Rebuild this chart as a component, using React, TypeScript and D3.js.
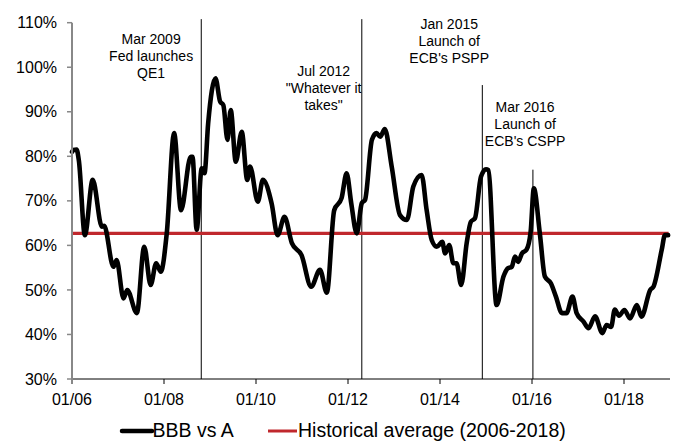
import React from "react";
import * as d3 from "d3";

// Dates as fractional years, values in %
const dates = [
  2006.0, 2006.03, 2006.1, 2006.15, 2006.28, 2006.45, 2006.65, 2006.7, 2006.9, 2006.97,
  2007.12, 2007.2, 2007.41, 2007.57, 2007.71, 2007.83, 2007.93, 2008.06, 2008.22, 2008.37,
  2008.58, 2008.62, 2008.71, 2008.82, 2008.88, 2008.96, 2009.12, 2009.22, 2009.29, 2009.38,
  2009.45, 2009.56, 2009.69, 2009.81, 2009.87, 2010.04, 2010.15, 2010.34, 2010.47, 2010.62,
  2010.78, 2010.99, 2011.2, 2011.39, 2011.54, 2011.7, 2011.86, 2011.97, 2012.07, 2012.19,
  2012.3, 2012.37, 2012.52, 2012.62, 2012.7, 2012.8, 2012.95, 2013.13, 2013.28, 2013.42,
  2013.6, 2013.71, 2013.82, 2013.93, 2014.05, 2014.11, 2014.2, 2014.29, 2014.36, 2014.46,
  2014.58, 2014.67, 2014.76, 2014.89, 2015.0, 2015.05, 2015.23, 2015.38, 2015.48, 2015.56,
  2015.63, 2015.7, 2015.78, 2015.88, 2015.97, 2016.04, 2016.17, 2016.28, 2016.41, 2016.52,
  2016.65, 2016.75, 2016.88, 2016.97, 2017.12, 2017.23, 2017.37, 2017.53, 2017.62, 2017.72,
  2017.8, 2017.89, 2018.01, 2018.13, 2018.28, 2018.38, 2018.57, 2018.64, 2018.82, 2018.89,
  2018.96,
];
const bbbVsA = [
  81.0, 81.4, 81.5, 79.0, 62.3, 74.7, 64.2, 64.4, 55.2, 56.7,
  48.1, 50.0, 44.8, 59.7, 51.1, 56.0, 54.1, 62.7, 85.2, 67.9,
  79.9, 79.9, 63.5, 77.3, 76.2, 87.4, 97.5, 92.3, 91.5, 83.7,
  90.4, 78.8, 85.5, 74.7, 77.7, 69.8, 74.7, 69.4, 62.3, 66.4,
  60.5, 57.8, 50.7, 54.5, 49.4, 67.9, 70.6, 76.2, 69.5, 62.7,
  69.5, 70.2, 83.7, 85.2, 84.4, 86.1, 77.7, 66.8, 65.7, 73.2,
  75.8, 67.9, 61.2, 59.7, 60.8, 58.2, 60.1, 56.0, 56.0, 51.1,
  60.5, 65.3, 66.1, 75.4, 77.1, 76.9, 46.6, 53.0, 54.9, 55.2,
  57.5, 56.3, 58.2, 59.0, 63.0, 72.8, 62.7, 53.0, 51.5, 48.5,
  44.8, 44.8, 48.5, 44.8, 42.9, 41.4, 44.1, 40.3, 42.1, 41.7,
  45.6, 44.2, 45.5, 43.6, 46.6, 44.0, 50.0, 50.7, 59.0, 62.3,
  62.3,
];
const historicalAverage = 62.7;

const xTickYears = [2006, 2008, 2010, 2012, 2014, 2016, 2018];
const xTickLabels = ["01/06", "01/08", "01/10", "01/12", "01/14", "01/16", "01/18"];
const yTicks = [30, 40, 50, 60, 70, 80, 90, 100, 110];

const eventYears = [2008.81, 2012.3, 2014.92, 2016.02];
const eventTopValues = [110.8, 110.8, 96.0, 77.0];
const eventLabels = [
  ["Mar 2009", "Fed launches", "QE1"],
  ['Jul 2012', '"Whatever it', 'takes"'],
  ["Jan 2015", "Launch of", "ECB's PSPP"],
  ["Mar 2016", "Launch of", "ECB's CSPP"],
];
const eventLabelYears = [2007.72, 2011.47, 2014.2, 2015.85];
const eventLabelTopValues = [106.4, 99.2, 109.7, 91.0];

const legendLabels = ["BBB vs A", "Historical average (2006-2018)"];

const W = 678;
const H = 441;
const margin = { left: 72, right: 8, top: 22.7, bottom: 62 };
const FONT = "'Liberation Sans', Arial, sans-serif";

export default function App() {
  const x = d3.scaleLinear().domain([2006, 2019]).range([margin.left, 670]);
  const y = d3.scaleLinear().domain([30, 110]).range([379, margin.top]);

  const pts: [number, number][] = dates.map((d, i) => [d, bbbVsA[i]]);
  const line = d3
    .line<[number, number]>()
    .x((d) => x(d[0]))
    .y((d) => y(d[1]))
    .curve(d3.curveMonotoneX);

  const red = "#C0282D";

  return (
    <svg
      width={W}
      height={H}
      style={{ position: "absolute", left: 0, top: 0, background: "#fff" }}
      fontFamily={FONT}
    >
      {/* event vertical lines */}
      {eventYears.map((ey, i) => (
        <line
          key={"ev" + i}
          x1={x(ey)}
          x2={x(ey)}
          y1={y(eventTopValues[i])}
          y2={y(30)}
          stroke="#000"
          strokeWidth={1}
        />
      ))}
      {/* event labels */}
      {eventLabels.map((lines, i) =>
        lines.map((t, j) => (
          <text
            key={"el" + i + "-" + j}
            x={x(eventLabelYears[i])}
            y={y(eventLabelTopValues[i]) + j * 17}
            textAnchor="middle"
            dominantBaseline="central"
            fontSize={14}
            fill="#000"
          >
            {t}
          </text>
        ))
      )}

      {/* historical average */}
      <line
        x1={x(2006)}
        x2={x(2018.97)}
        y1={y(historicalAverage)}
        y2={y(historicalAverage)}
        stroke={red}
        strokeWidth={3.2}
      />

      {/* series */}
      <path d={line(pts) || ""} fill="none" stroke="#000" strokeWidth={4.6} strokeLinejoin="round" strokeLinecap="round" />

      {/* x axis */}
      <line x1={x(2006)} x2={x(2019)} y1={y(30)} y2={y(30)} stroke="#000" strokeWidth={1} />
      {xTickYears.map((t, i) => (
        <g key={"xt" + i}>
          <line x1={x(t)} x2={x(t)} y1={y(30)} y2={y(30) + 5} stroke={i === 0 ? "#888" : "#000"} strokeWidth={i === 0 ? 2 : 1} />
          <text x={x(t)} y={405} textAnchor="middle" fontSize={16} fill="#000">
            {xTickLabels[i]}
          </text>
        </g>
      ))}

      {/* y axis */}
      <line x1={x(2006)} x2={x(2006)} y1={y(110)} y2={y(30)} stroke="#888" strokeWidth={2} />
      {yTicks.map((t) => (
        <g key={"yt" + t}>
          <line x1={x(2006) - 5} x2={x(2006)} y1={y(t)} y2={y(t)} stroke="#888" strokeWidth={1.5} />
          <text x={57} y={y(t)} dy="0.35em" textAnchor="end" fontSize={16} fill="#000">
            {t + "%"}
          </text>
        </g>
      ))}

      {/* legend */}
      <line x1={122} x2={152} y1={431} y2={431} stroke="#000" strokeWidth={4.5} strokeLinecap="round" />
      <text x={152.5} y={436.5} fontSize={19.5} fill="#000">
        {legendLabels[0]}
      </text>
      <line x1={268} x2={297} y1={431} y2={431} stroke={red} strokeWidth={3} />
      <text x={298} y={436.5} fontSize={19.5} fill="#000">
        {legendLabels[1]}
      </text>
    </svg>
  );
}
